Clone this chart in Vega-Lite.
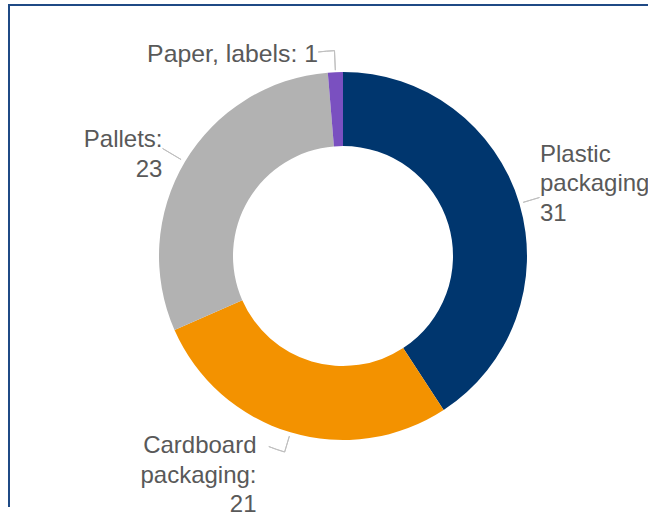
{
  "$schema": "https://vega.github.io/schema/vega-lite/v6.json",
  "width": 668,
  "height": 502,
  "autosize": {"type": "none"},
  "padding": {"left": 9, "top": 5, "right": -29, "bottom": 20},
  "background": "white",
  "view": {"stroke": "#1F4A85", "strokeWidth": 2, "strokeDash": [639, 1199, 502]},
  "config": {
    "text": {"font": "Liberation Sans", "fontSize": 24, "fill": "#595959", "lineHeight": 29.5, "lineBreak": "\n"}
  },
  "data": {
    "values": [
      {"category": "Plastic packaging", "value": 31, "label": "Plastic\npackaging\n31"},
      {"category": "Cardboard packaging", "value": 21, "label": "Cardboard\npackaging:\n21"},
      {"category": "Pallets", "value": 23, "label": "Pallets:\n23"},
      {"category": "Paper, labels", "value": 1, "label": "Paper, labels: 1"}
    ]
  },
  "transform": [
    {"joinaggregate": [{"op": "sum", "field": "value", "as": "total"}]},
    {"window": [{"op": "sum", "field": "value", "as": "cum"}], "frame": [null, 0]},
    {"calculate": "(datum.cum - datum.value) / datum.total", "as": "start"},
    {"calculate": "datum.cum / datum.total", "as": "end"},
    {"calculate": "(datum.cum - datum.value / 2) / datum.total", "as": "mid"}
  ],
  "layer": [
    {
      "mark": {"type": "arc", "radius": 184, "radius2": 110},
      "encoding": {
        "theta": {"field": "start", "type": "quantitative", "stack": null, "scale": {"domain": [0, 1], "range": [0, 6.283185307]}},
        "theta2": {"field": "end"},
        "color": {
          "field": "category", "type": "nominal", "legend": null,
          "scale": {
            "domain": ["Plastic packaging", "Cardboard packaging", "Pallets", "Paper, labels"],
            "range": ["#00366E", "#F39200", "#B2B2B2", "#7A50C0"]
          }
        }
      }
    },
    {
      "transform": [{"filter": "datum.category === 'Plastic packaging'"}],
      "mark": {"type": "arc", "radius": 205, "radius2": 188, "filled": false, "stroke": "#BFBFBF", "strokeWidth": 1},
      "encoding": {"theta": {"field": "mid", "type": "quantitative", "stack": null}, "theta2": {"field": "mid"}}
    },
    {
      "transform": [{"filter": "datum.category === 'Pallets'"}],
      "mark": {"type": "arc", "radius": 210, "radius2": 188.5, "filled": false, "stroke": "#BFBFBF", "strokeWidth": 1},
      "encoding": {"theta": {"field": "mid", "type": "quantitative", "stack": null}, "theta2": {"field": "mid"}}
    },
    {
      "transform": [{"filter": "datum.category === 'Cardboard packaging'"}],
      "mark": {"type": "arc", "radius": 204.5, "radius2": 188, "filled": false, "stroke": "#BFBFBF", "strokeWidth": 1},
      "encoding": {"theta": {"field": "mid", "type": "quantitative", "stack": null}, "theta2": {"field": "mid"}}
    },
    {
      "transform": [{"filter": "datum.category === 'Cardboard packaging'"}],
      "mark": {"type": "arc", "radius": 204.5, "radius2": 204.5, "theta2Offset": 0.0820, "filled": false, "stroke": "#BFBFBF", "strokeWidth": 1},
      "encoding": {"theta": {"field": "mid", "type": "quantitative", "stack": null}, "theta2": {"field": "mid"}}
    },
    {
      "transform": [{"filter": "datum.category === 'Paper, labels'"}],
      "mark": {"type": "arc", "radius": 205.5, "radius2": 186, "filled": false, "stroke": "#BFBFBF", "strokeWidth": 1},
      "encoding": {"theta": {"field": "mid", "type": "quantitative", "stack": null}, "theta2": {"field": "mid"}}
    },
    {
      "transform": [{"filter": "datum.category === 'Paper, labels'"}],
      "mark": {"type": "arc", "radius": 205.5, "radius2": 205.5, "theta2Offset": -0.0794, "filled": false, "stroke": "#BFBFBF", "strokeWidth": 1},
      "encoding": {"theta": {"field": "mid", "type": "quantitative", "stack": null}, "theta2": {"field": "mid"}}
    },
    {
      "transform": [{"filter": "datum.category === 'Plastic packaging'"}],
      "mark": {"type": "text", "radius": 207, "align": "left", "baseline": "alphabetic", "dx": -1.4, "dy": -35.2},
      "encoding": {"theta": {"field": "mid", "type": "quantitative", "stack": null}, "text": {"field": "label"}}
    },
    {
      "transform": [{"filter": "datum.category === 'Cardboard packaging'"}],
      "mark": {"type": "text", "radius": 207, "align": "right", "baseline": "alphabetic", "dx": -27.4, "dy": -1.1},
      "encoding": {"theta": {"field": "mid", "type": "quantitative", "stack": null}, "text": {"field": "label"}}
    },
    {
      "transform": [{"filter": "datum.category === 'Pallets'"}],
      "mark": {"type": "text", "radius": 207, "align": "right", "baseline": "alphabetic", "dx": -2.7, "dy": -2.8},
      "encoding": {"theta": {"field": "mid", "type": "quantitative", "stack": null}, "text": {"field": "label"}}
    },
    {
      "transform": [{"filter": "datum.category === 'Paper, labels'"}],
      "mark": {"type": "text", "radius": 207, "align": "right", "baseline": "alphabetic", "fontSize": 24.8, "dx": -16.4, "dy": 12.5},
      "encoding": {"theta": {"field": "mid", "type": "quantitative", "stack": null}, "text": {"field": "label"}}
    }
  ]
}
